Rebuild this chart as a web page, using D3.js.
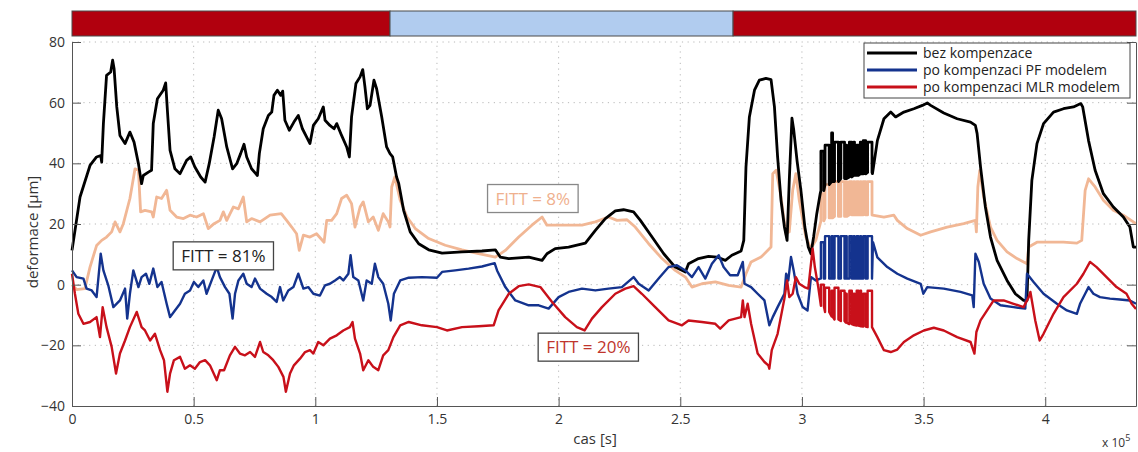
<!DOCTYPE html>
<html>
<head>
<meta charset="utf-8">
<script src="https://cdn.jsdelivr.net/npm/d3@7/dist/d3.min.js"></script>
<style>
    body { margin: 0; background: #fff; }
    svg { display: block; font-family: 'Open Sans', sans-serif; }
</style>
</head>
<body>
<div id="chart"></div>
<script>
// cas in units of 1e5 s, deformace in um
const xMax = 4.373;
const xTicks = [0, 0.5, 1, 1.5, 2, 2.5, 3, 3.5, 4];
const yTicks = [-40, -20, 0, 20, 40, 60, 80];

const legendLabels = ['bez kompenzace', 'po kompenzaci PF modelem', 'po kompenzaci MLR modelem'];

// top band: [start, end, type]
const bandStart = [0, 1.307, 2.717];
const bandEnd = [1.307, 2.717, xMax];
const bandType = ['hot', 'cold', 'hot'];

const fittText = ['FITT = 81%', 'FITT = 8%', 'FITT = 20%'];
const fittX = [0.622, 1.894, 2.122];
const fittY = [9.5, 28.4, -20.6];

const black = [[0,11.3],[0.033,28.9],[0.074,39.3],[0.101,42.1],[0.118,42.6],[0.122,40.4],[0.129,53],[0.142,69],[0.159,70.1],[0.167,74],[0.173,71.2],[0.184,58.6],[0.197,49.2],[0.218,46.5],[0.238,50.3],[0.255,47],[0.273,39.9],[0.286,33.3],[0.293,36],[0.314,37.1],[0.327,37.7],[0.334,53.1],[0.351,61.3],[0.375,64.1],[0.385,66.5],[0.392,57.5],[0.403,44.3],[0.423,38.2],[0.444,36.6],[0.471,41],[0.488,42.1],[0.505,38.8],[0.529,35.5],[0.547,33.8],[0.564,39.9],[0.584,48.7],[0.601,57.5],[0.615,54.7],[0.636,45.4],[0.66,38.2],[0.677,39.9],[0.693,43.2],[0.707,46.3],[0.718,42.1],[0.738,38.2],[0.762,36],[0.77,43.2],[0.786,51.4],[0.807,55.8],[0.821,56.9],[0.83,62.4],[0.844,64.1],[0.858,62.4],[0.866,63.8],[0.875,54.2],[0.893,50.9],[0.912,53.6],[0.93,55.8],[0.947,51.4],[0.964,48.7],[0.978,46.5],[0.992,52.5],[1.012,54.7],[1.033,58.6],[1.04,54.2],[1.06,52.5],[1.077,51.4],[1.088,53.1],[1.108,49.2],[1.129,45.4],[1.14,42.1],[1.149,55.3],[1.167,66.3],[1.184,68.5],[1.195,70.9],[1.204,65.2],[1.214,58],[1.225,59.1],[1.241,67.4],[1.252,64.6],[1.273,55.3],[1.293,45.4],[1.307,43.2],[1.318,42.1],[1.334,35.5],[1.343,33.3],[1.363,24.5],[1.39,17.4],[1.425,13.5],[1.466,11.5],[1.521,10.4],[1.603,10.8],[1.685,11.1],[1.74,11.5],[1.76,9.1],[1.795,8.6],[1.877,9.1],[1.932,8],[1.952,10.2],[1.986,11.9],[2.041,12.4],[2.11,13.7],[2.151,17.9],[2.192,21.8],[2.233,24.3],[2.267,24.7],[2.308,24],[2.336,21.2],[2.384,15.7],[2.432,10.2],[2.479,5.8],[2.521,4.2],[2.534,6.9],[2.575,8.6],[2.616,9.3],[2.651,9.1],[2.685,8],[2.712,9.7],[2.75,11.1],[2.761,14.6],[2.77,38.8],[2.784,55.3],[2.805,64.1],[2.825,67.4],[2.852,68],[2.873,67.6],[2.887,58.6],[2.9,42.1],[2.914,27.8],[2.928,19],[2.939,14.6],[2.948,34.4],[2.959,54.9],[2.966,51.2],[2.98,40.8],[2.996,30.9],[3.012,19],[3.026,12.4],[3.037,10.2],[3.048,15.7],[3.061,23.4],[3.075,30],[3.29,36.6],[3.31,47.5],[3.337,54.7],[3.365,56.9],[3.385,55.3],[3.419,56.9],[3.46,58],[3.495,59.1],[3.515,59.9],[3.529,59.1],[3.583,56.6],[3.638,54.7],[3.693,53.6],[3.713,52.5],[3.72,49.8],[3.734,38.8],[3.754,25.6],[3.775,15.7],[3.802,8],[3.843,1.4],[3.877,-3],[3.911,-5.2],[3.925,-5.2],[3.932,14.6],[3.945,34.4],[3.966,46.5],[3.993,53.1],[4.034,56.9],[4.075,58],[4.116,58.6],[4.146,59.7],[4.154,58.6],[4.178,47.5],[4.205,37.7],[4.239,30],[4.28,25.6],[4.321,22.3],[4.348,19],[4.362,12.4],[4.373,12.4]];

const peach = [[0,0],[0.019,-1.6],[0.053,-1.3],[0.074,5.8],[0.101,12.9],[0.122,14.6],[0.142,15.7],[0.163,17.4],[0.177,20.7],[0.197,17.4],[0.211,20.1],[0.238,28.4],[0.259,38.2],[0.273,37.7],[0.282,24],[0.3,24.5],[0.327,24],[0.334,22.3],[0.348,28.9],[0.368,28.4],[0.389,31.1],[0.403,24.5],[0.43,22.3],[0.458,21.8],[0.485,22.9],[0.512,22.3],[0.54,23.4],[0.56,18.5],[0.584,20.1],[0.608,21.2],[0.622,24],[0.636,21.2],[0.663,25.6],[0.684,25],[0.704,28.9],[0.718,20.7],[0.738,21.8],[0.773,20.7],[0.814,22.9],[0.86,23.4],[0.882,21.2],[0.903,19],[0.923,16.8],[0.934,11.3],[0.951,16.3],[0.978,15.7],[1.005,16.8],[1.036,14],[1.047,21.2],[1.067,21.2],[1.088,23.4],[1.108,28.4],[1.129,29.5],[1.149,26.7],[1.163,19],[1.184,25.6],[1.197,27.3],[1.218,20.7],[1.238,22.3],[1.259,17.9],[1.279,23.4],[1.3,20.7],[1.307,19],[1.314,32.2],[1.327,35.5],[1.349,27.8],[1.377,22.3],[1.411,18.5],[1.466,15.2],[1.534,13],[1.603,11.5],[1.671,10.2],[1.74,9.1],[1.781,11.3],[1.836,15.7],[1.89,19.6],[1.932,22.3],[1.952,19.6],[2.014,19.6],[2.096,19.6],[2.151,20.7],[2.205,22.3],[2.24,21.2],[2.281,21.4],[2.315,19],[2.37,13.5],[2.425,8.6],[2.479,4.7],[2.521,2.5],[2.548,-0.8],[2.589,0.3],[2.644,0.9],[2.699,-0.2],[2.75,-0.8],[2.77,3.6],[2.791,7.5],[2.832,9.1],[2.873,12.4],[2.88,36.6],[2.894,37.7],[2.914,28.9],[2.934,16.8],[2.948,17.4],[2.962,31.1],[2.975,36.6],[2.989,27.8],[3.016,15.7],[3.037,11.9],[3.057,14.6],[3.075,20],[3.29,22.9],[3.337,22.3],[3.378,22.9],[3.392,21.2],[3.433,18.5],[3.488,16.3],[3.529,17.4],[3.597,19],[3.665,20.1],[3.713,21.2],[3.717,17.4],[3.723,32.2],[3.731,37.7],[3.747,28.9],[3.775,19],[3.802,14.6],[3.843,10.8],[3.884,8.6],[3.925,6.9],[3.932,12.4],[3.966,14],[4.02,14],[4.075,14],[4.13,13.7],[4.15,14.6],[4.164,31.1],[4.178,34.9],[4.205,32.2],[4.239,27.8],[4.28,24.5],[4.321,22.9],[4.362,20.7],[4.373,20.1]];

const blue = [[0,4.7],[0.019,2.5],[0.047,2],[0.06,-1.3],[0.081,-1.9],[0.101,-4.1],[0.118,10.2],[0.129,4.7],[0.149,-0.2],[0.17,-7.4],[0.197,-5.2],[0.218,-1.3],[0.227,-11.2],[0.238,-3],[0.252,4.7],[0.273,-0.8],[0.286,2.5],[0.304,3.6],[0.318,0.3],[0.334,5.3],[0.351,-0.8],[0.368,0.9],[0.389,-6.3],[0.403,-10.7],[0.423,-8.5],[0.444,-6.3],[0.464,-3],[0.485,-1.9],[0.501,0.9],[0.519,-0.8],[0.54,1.4],[0.553,-3],[0.574,1.4],[0.595,5.8],[0.608,2.5],[0.629,-0.8],[0.647,-3],[0.66,-11.2],[0.67,-3],[0.684,1.4],[0.704,3.6],[0.718,0.3],[0.738,-0.8],[0.752,2],[0.773,-1.3],[0.8,-3],[0.821,-4.1],[0.841,-5.7],[0.855,-0.8],[0.868,-5.2],[0.889,-1.9],[0.91,-0.8],[0.93,3.6],[0.951,-1.3],[0.971,-0.8],[0.992,-3],[1.019,-3.6],[1.04,-0.2],[1.06,0.3],[1.081,1.4],[1.101,2.5],[1.115,1.4],[1.136,3.6],[1.145,9.7],[1.156,2.5],[1.177,1.4],[1.197,-5.2],[1.211,1.4],[1.232,0.3],[1.245,6.9],[1.259,2.5],[1.279,0.3],[1.3,-6.3],[1.31,-11.8],[1.323,-3],[1.349,1.4],[1.384,2.3],[1.438,2.5],[1.5,2.3],[1.521,4.2],[1.575,4.7],[1.63,5.3],[1.685,6],[1.737,7.1],[1.747,4.7],[1.781,-0.8],[1.822,-5.2],[1.877,-6.8],[1.918,-6.8],[1.959,-7.9],[2,-4.1],[2.041,-2.4],[2.096,-1.3],[2.151,-1.9],[2.205,-1.3],[2.26,-0.8],[2.308,2.5],[2.329,0.3],[2.37,-1.9],[2.411,2],[2.452,5.8],[2.486,6.4],[2.521,4.7],[2.548,2.5],[2.575,5.8],[2.603,2],[2.63,6.9],[2.658,9.7],[2.678,5.8],[2.705,3.1],[2.736,3.1],[2.757,7.5],[2.764,0.3],[2.791,-0.8],[2.818,-3],[2.846,-5.2],[2.866,-13.4],[2.88,-10.7],[2.9,-7.4],[2.928,-3],[2.935,3.6],[2.944,1.4],[2.955,9.1],[2.966,4.7],[2.982,-3],[3.003,-7.4],[3.023,-8.5],[3.037,2.5],[3.057,1.4],[3.075,2],[3.292,14],[3.31,9],[3.351,5.8],[3.392,3.6],[3.433,2],[3.488,0.3],[3.499,-3],[3.515,-0.8],[3.583,-1.3],[3.652,-2.4],[3.7,-3.5],[3.706,-7.4],[3.713,10.2],[3.727,7.5],[3.747,0.3],[3.775,-4.6],[3.816,-6.8],[3.87,-7.4],[3.918,-7.9],[3.925,3.6],[3.952,0.9],[3.993,-3],[4.048,-6.3],[4.089,-8.5],[4.13,-9.6],[4.143,-6.3],[4.164,-3],[4.178,-0.8],[4.198,-3],[4.225,-4.1],[4.266,-4.6],[4.307,-4.9],[4.348,-5.2],[4.373,-6.3]];

const red = [[0,3.6],[0.012,-3],[0.026,-9.6],[0.047,-12.9],[0.074,-12.3],[0.101,-10.7],[0.115,-17.3],[0.126,-7.4],[0.142,-14],[0.163,-20.5],[0.181,-29.3],[0.197,-22.7],[0.218,-18.4],[0.238,-14],[0.266,-9],[0.286,-14],[0.3,-15.1],[0.321,-18.4],[0.341,-16.2],[0.362,-21.6],[0.378,-24.9],[0.392,-35.3],[0.403,-29.3],[0.419,-24.9],[0.444,-23.8],[0.464,-27.7],[0.485,-26.6],[0.505,-27.7],[0.526,-25.5],[0.547,-24.9],[0.567,-26.6],[0.595,-31.5],[0.608,-28.2],[0.625,-28.2],[0.649,-23.3],[0.67,-20.5],[0.69,-22.7],[0.711,-23.3],[0.732,-22.2],[0.752,-23.8],[0.773,-18.9],[0.786,-22.2],[0.807,-23.3],[0.827,-24.9],[0.848,-27.1],[0.869,-30.4],[0.879,-35.3],[0.896,-29.3],[0.912,-26.6],[0.937,-24.4],[0.958,-22.2],[0.978,-21.6],[0.992,-22.7],[1.012,-18.9],[1.033,-20],[1.06,-17.8],[1.088,-16.7],[1.115,-15.1],[1.142,-14],[1.153,-12.3],[1.163,-17.8],[1.184,-22.7],[1.197,-28.2],[1.218,-24.9],[1.238,-27.1],[1.259,-28.2],[1.279,-23.3],[1.3,-21.6],[1.321,-17.3],[1.349,-13.4],[1.384,-12.3],[1.438,-13.4],[1.5,-14],[1.541,-15.1],[1.603,-14],[1.671,-13.7],[1.733,-13.4],[1.753,-8.5],[1.795,-3],[1.836,-0.5],[1.877,0.1],[1.925,-0.8],[1.973,-5.7],[2.027,-10.7],[2.075,-14],[2.107,-15.1],[2.137,-11.2],[2.178,-7.4],[2.233,-3],[2.274,-1.3],[2.308,-0.5],[2.342,-3],[2.397,-7.4],[2.452,-11.8],[2.507,-13.4],[2.534,-11.8],[2.589,-12.3],[2.644,-12.9],[2.664,-14.5],[2.699,-11.8],[2.75,-10.7],[2.757,-5.2],[2.764,-10.7],[2.777,-6.3],[2.791,-12.9],[2.818,-22.7],[2.846,-25.5],[2.862,-26.6],[2.866,-27.7],[2.876,-21.6],[2.9,-16.2],[2.928,-4.6],[2.939,1.4],[2.948,-4.1],[2.962,-3],[2.975,2.5],[2.989,0.3],[3.01,-0.8],[3.026,-1.3],[3.044,11.9],[3.053,5.8],[3.067,-0.8],[3.31,-17.3],[3.337,-21.6],[3.365,-22.2],[3.392,-21.4],[3.419,-18.9],[3.46,-16.7],[3.501,-15.1],[3.542,-14.2],[3.583,-15.1],[3.638,-17.3],[3.693,-18.9],[3.709,-22.7],[3.717,-15.6],[3.734,-11.8],[3.761,-8.5],[3.788,-5.2],[3.829,-5.2],[3.87,-6.3],[3.911,-7.4],[3.932,-4.1],[3.939,-2.4],[3.959,-11.8],[3.977,-18.4],[3.993,-16.2],[4.034,-9.6],[4.075,-4.1],[4.13,0.3],[4.157,3.6],[4.184,7.5],[4.211,5.8],[4.252,2.5],[4.293,-0.8],[4.334,-3],[4.355,-6.3],[4.373,-8]];

// fast switching section around 3.1e5 - 3.3e5 s
const pulseStart = [3.078, 3.095, 3.122, 3.134, 3.160, 3.180, 3.195, 3.213, 3.225, 3.240, 3.252, 3.270];
const pulseEnd   = [3.090, 3.112, 3.126, 3.150, 3.175, 3.184, 3.205, 3.216, 3.232, 3.243, 3.262, 3.288];
const blackPulseLow  = [31, 33, 34, 34, 35, 35, 35.5, 36, 36, 36.5, 36.5, 37];
const blackPulseHigh = [44, 46, 50, 47, 47, 46, 47, 47, 46, 47, 47.5, 47];
const peachPulseLow  = [21, 22, 22, 22.5, 22.5, 22.5, 23, 23, 23, 23, 23, 23];
const peachPulseHigh = [30, 33, 34, 34, 34, 34, 34, 34, 34, 34, 34, 34];
const bluePulseLow   = [2, 2, 2, 2, 2, 2, 2, 2, 2, 2, 2, 2];
const bluePulseHigh  = [14, 16, 16, 16, 16, 16, 16, 16, 16, 16, 16, 16];
const redPulseLow    = [-7, -9, -10.5, -11.5, -12, -12.5, -13, -13.3, -13.5, -13.7, -13.8, -14];
const redPulseHigh   = [0, -1, -2, -1, -2, -3, -2, -3, -2, -2, -3, -2];

function withPulses(base, low, high) {
    const pts = [];
    pulseStart.forEach((s, i) => {
        pts.push([s, low[i]], [s, high[i]], [pulseEnd[i], high[i]], [pulseEnd[i], low[i]]);
    });
    const first = pulseStart[0];
    const last = pulseEnd[pulseEnd.length - 1];
    return base.filter(p => p[0] < first).concat(pts, base.filter(p => p[0] > last));
}

const series = [
    { name: 'peach', color: '#f1b795', width: 2.8, data: withPulses(peach, peachPulseLow, peachPulseHigh) },
    { name: 'bez', color: '#000000', width: 2.8, data: withPulses(black, blackPulseLow, blackPulseHigh) },
    { name: 'pf', color: '#14338e', width: 2.4, data: withPulses(blue, bluePulseLow, bluePulseHigh) },
    { name: 'mlr', color: '#c8101a', width: 2.4, data: withPulses(red, redPulseLow, redPulseHigh) }
];

function drawChart() {
    const width = 1138, height = 452;
    const margin = { top: 42, right: 2, bottom: 46, left: 72 };
    const plotW = width - margin.left - margin.right;
    const plotH = height - margin.top - margin.bottom;

    const svg = d3.select('#chart').append('svg')
        .attr('width', width)
        .attr('height', height);

    const x = d3.scaleLinear().domain([0, xMax]).range([margin.left, margin.left + plotW]);
    const y = d3.scaleLinear().domain([-40, 80]).range([margin.top + plotH, margin.top]);

    // grid
    const grid = svg.append('g');
    grid.selectAll('.gx')
        .data(xTicks.filter(d => d > 0))
        .enter()
        .append('line')
        .attr('x1', d => x(d)).attr('x2', d => x(d))
        .attr('y1', y(-40)).attr('y2', y(80))
        .style('stroke', '#b8b8b8')
        .style('stroke-dasharray', '1.2,4.5');
    grid.selectAll('.gy')
        .data(yTicks.filter(d => d > -40))
        .enter()
        .append('line')
        .attr('x1', x(0)).attr('x2', x(xMax))
        .attr('y1', d => y(d)).attr('y2', d => y(d))
        .style('stroke', '#b8b8b8')
        .style('stroke-dasharray', '1.2,4.5');

    // top band
    svg.selectAll('.band')
        .data(bandStart)
        .enter()
        .append('rect')
        .attr('x', (d, i) => x(d))
        .attr('y', 11)
        .attr('width', (d, i) => x(bandEnd[i]) - x(d))
        .attr('height', 25)
        .style('fill', (d, i) => bandType[i] === 'hot' ? '#b1000e' : '#b1ccef')
        .style('stroke', '#4a4a4a')
        .style('stroke-width', '1px');

    // series
    const line = d3.line().x(d => x(d[0])).y(d => y(d[1]));
    svg.append('g')
        .selectAll('path')
        .data(series)
        .enter()
        .append('path')
        .attr('d', d => line(d.data))
        .style('fill', 'none')
        .style('stroke', d => d.color)
        .style('stroke-width', d => d.width)
        .style('stroke-linejoin', 'round');

    // axes
    const axisStyle = g => {
        g.select('.domain').style('stroke', '#555');
        g.selectAll('.tick line').style('stroke', '#555');
        g.selectAll('text')
            .style('font-family', "'Open Sans', sans-serif")
            .style('font-size', '14px')
            .style('fill', '#333');
    };

    svg.append('g')
        .attr('transform', `translate(0,${y(-40)})`)
        .call(d3.axisBottom(x).tickValues(xTicks).tickFormat(d => String(d)).tickSizeInner(-9).tickSizeOuter(0).tickPadding(8))
        .call(axisStyle);

    svg.append('g')
        .attr('transform', `translate(${x(0)},0)`)
        .call(d3.axisLeft(y).tickValues(yTicks).tickFormat(d3.format('d')).tickSizeInner(-9).tickSizeOuter(0).tickPadding(7))
        .call(axisStyle);

    svg.append('g')
        .attr('transform', `translate(${x(xMax)},0)`)
        .call(d3.axisRight(y).tickValues(yTicks).tickFormat('').tickSizeInner(-9).tickSizeOuter(0))
        .call(axisStyle);

    // axis labels
    svg.append('text')
        .attr('transform', `translate(38,${(y(-40) + y(80)) / 2 + 8}) rotate(-90)`)
        .attr('text-anchor', 'middle')
        .style('font-size', '15px')
        .style('fill', '#333')
        .text('deformace [µm]');

    svg.append('text')
        .attr('x', x(2.15))
        .attr('y', 444)
        .attr('text-anchor', 'middle')
        .style('font-size', '15px')
        .style('fill', '#333')
        .text('cas [s]');

    const mult = svg.append('text')
        .attr('x', 1102)
        .attr('y', 447)
        .style('font-size', '12px')
        .style('fill', '#333');
    mult.append('tspan').text('x 10');
    mult.append('tspan').attr('dy', -6).style('font-size', '9px').text('5');

    // FITT boxes
    const fittColor = ['#222222', '#efb08e', '#c0352c'];
    const fittBorder = ['#444', '#888', '#444'];
    fittText.forEach((t, i) => {
        const g = svg.append('g').attr('transform', `translate(${x(fittX[i])},${y(fittY[i])})`);
        const txt = g.append('text')
            .attr('text-anchor', 'middle')
            .attr('dy', '0.36em')
            .style('font-size', '17px')
            .style('fill', fittColor[i])
            .text(t);
        const w = txt.node().getComputedTextLength();
        g.insert('rect', 'text')
            .attr('x', -w / 2 - 8)
            .attr('y', -14)
            .attr('width', w + 16)
            .attr('height', 28)
            .style('fill', '#fff')
            .style('stroke', fittBorder[i])
            .style('stroke-width', '1.3px');
    });

    // legend
    const legend = svg.append('g').attr('transform', 'translate(864,43)');
    legend.append('rect')
        .attr('width', 266)
        .attr('height', 55)
        .style('fill', '#fff')
        .style('stroke', '#444')
        .style('stroke-width', '1px');
    const legendSeries = series.slice(1);
    legendLabels.forEach((label, i) => {
        const row = legend.append('g').attr('transform', `translate(0,${10 + i * 17})`);
        row.append('line')
            .attr('x1', 3).attr('x2', 53)
            .style('stroke', legendSeries[i].color)
            .style('stroke-width', 2.8);
        row.append('text')
            .attr('x', 59)
            .attr('dy', '0.35em')
            .style('font-size', '14px')
            .style('fill', '#222')
            .text(label);
    });
}

drawChart();
</script>
</body>
</html>
